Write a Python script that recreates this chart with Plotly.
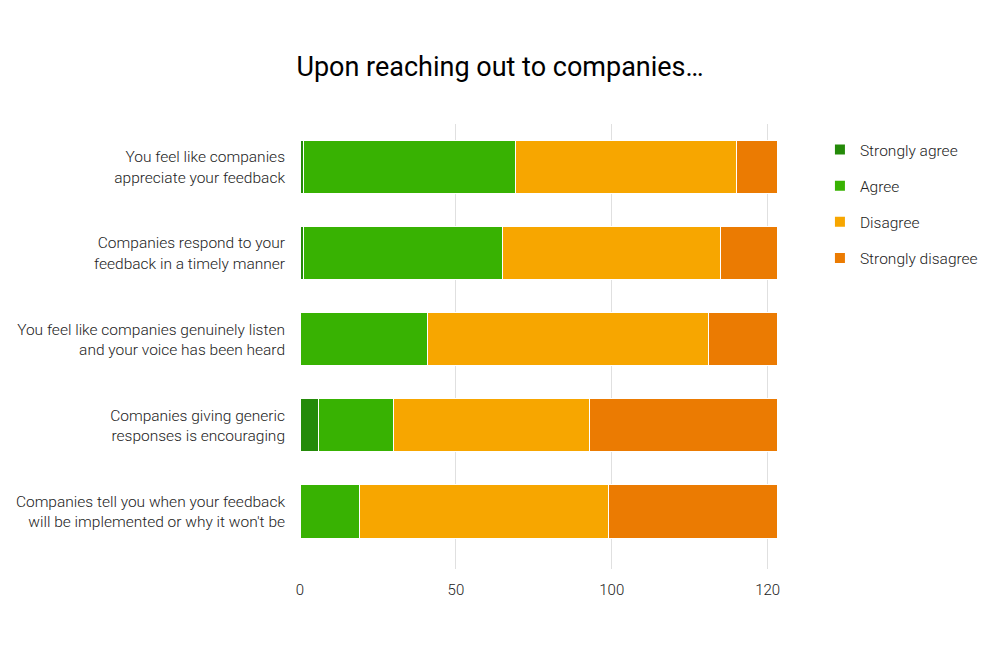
import plotly.graph_objects as go

# survey statements, top to bottom
statements = [
    "You feel like companies<br>appreciate your feedback",
    "Companies respond to your<br>feedback in a timely manner",
    "You feel like companies genuinely listen<br>and your voice has been heard",
    "Companies giving generic<br>responses is encouraging",
    "Companies tell you when your feedback<br>will be implemented or why it won't be",
]

strongly_agree = [1, 1, 0, 6, 0]
agree = [68, 64, 41, 24, 19]
disagree = [71, 70, 90, 63, 80]
strongly_disagree = [13, 18, 22, 60, 54]

x_tick_values = [0, 50, 100, 150]
x_tick_labels = ["0", "50", "100", "120"]

series = [
    ("Strongly agree", strongly_agree, "#248a09"),
    ("Agree", agree, "#38b202"),
    ("Disagree", disagree, "#f7a600"),
    ("Strongly disagree", strongly_disagree, "#eb7b02"),
]

FONT = "Roboto"
# page body has an 8px margin, so the figure is drawn 8px smaller
W, H = 992, 643

fig = go.Figure()
for i, (name, vals, color) in enumerate(series):
    fig.add_trace(go.Bar(
        y=statements, x=vals, name=name, orientation="h",
        marker=dict(color=color, line=dict(color="white", width=1)),
        legendgroup=str(i),
    ))

fig.update_layout(
    barmode="stack",
    bargap=0.38,
    width=W, height=H,
    plot_bgcolor="white", paper_bgcolor="white",
    margin=dict(l=292, r=223, t=116, b=82, autoexpand=False),
    font=dict(family=FONT, color="#222222", size=15),
    title=dict(
        text="Upon reaching out to companies…",
        x=492 / W, xanchor="center", y=1 - 59 / H, yanchor="middle", yref="container",
        font=dict(family=FONT, size=27, color="#000000"),
    ),
    legend=dict(
        x=1.09, xanchor="left", y=0.98, yanchor="top",
        font=dict(family=FONT, size=15.5, color="#222222", weight=300),
        tracegroupgap=13, itemsizing="constant",
    ),
    showlegend=True,
)

fig.update_xaxes(
    range=[0, 153], tickvals=x_tick_values, ticktext=x_tick_labels,
    showgrid=True, gridcolor="#e0e0e0", gridwidth=1,
    zeroline=False, showline=False, ticks="",
    ticklabelstandoff=10, automargin=False,
    tickfont=dict(family=FONT, size=15, color="#222222", weight=300),
)
fig.update_yaxes(
    type="category", categoryorder="array", categoryarray=statements,
    range=[4.67, -0.5], showgrid=False, zeroline=False, showline=False, ticks="",
    ticklabelstandoff=14, automargin=False,
    tickfont=dict(family=FONT, size=15.5, color="#222222", weight=300),
)

fig.write_html("out.html")
